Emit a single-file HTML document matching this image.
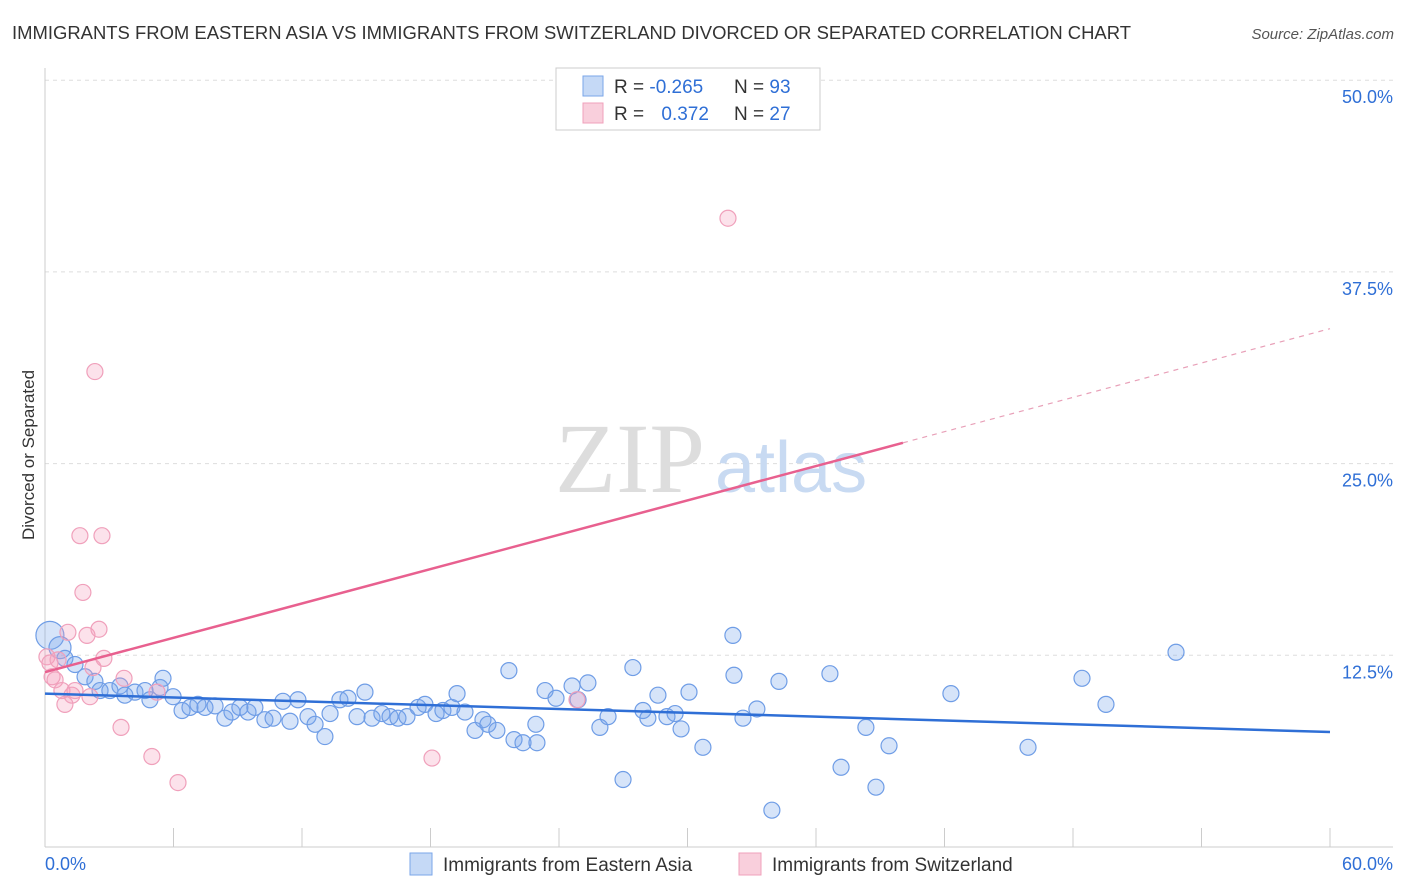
<!DOCTYPE html>
<html><head><meta charset="utf-8"><style>
body{margin:0;background:#fff;font-family:"Liberation Sans",sans-serif;}
#wrap{position:relative;width:1406px;height:892px;overflow:hidden;}
</style></head><body>
<div id="wrap">
<svg id="svg" width="1406" height="892" xmlns="http://www.w3.org/2000/svg">
<text x="12" y="39" font-size="18" fill="#333" textLength="1119" lengthAdjust="spacingAndGlyphs">IMMIGRANTS FROM EASTERN ASIA VS IMMIGRANTS FROM SWITZERLAND DIVORCED OR SEPARATED CORRELATION CHART</text>
<text x="1394" y="39" font-size="15" fill="#555" text-anchor="end" font-style="italic">Source: ZipAtlas.com</text>
<text x="34" y="455" font-size="17" fill="#333" text-anchor="middle" transform="rotate(-90 34 455)">Divorced or Separated</text>
<g id="grid"></g>
<text x="555" y="492" font-size="100" fill="#ddd" font-family="Liberation Serif">ZIP</text>
<text x="715" y="492" font-size="72" fill="#c8daf2">atlas</text>
<g id="pts"></g>
<g id="lines"></g>
<g>
<rect x="556" y="68" width="264" height="62" fill="#fff" stroke="#ccc"/>
<rect x="583" y="76" width="20" height="20" fill="#c5d9f6" stroke="#7aa6e8"/>
<rect x="583" y="103" width="20" height="20" fill="#f9cfdc" stroke="#f0a0bb"/>
<text x="614" y="93" font-size="19" fill="#333">R = <tspan fill="#2f6fd6">-0.265</tspan></text>
<text x="734" y="93" font-size="19" fill="#333">N = <tspan fill="#2f6fd6">93</tspan></text>
<text x="614" y="120" font-size="19" fill="#333">R = <tspan fill="#2f6fd6" dx="12">0.372</tspan></text>
<text x="734" y="120" font-size="19" fill="#333">N = <tspan fill="#2f6fd6">27</tspan></text>
</g>
<g>
<rect x="410" y="853" width="22" height="22" fill="#c5d9f6" stroke="#7aa6e8"/>
<text x="443" y="871" font-size="19" fill="#333">Immigrants from Eastern Asia</text>
<rect x="739" y="853" width="22" height="22" fill="#f9cfdc" stroke="#f0a0bb"/>
<text x="772" y="871" font-size="19" fill="#333">Immigrants from Switzerland</text>
</g>
</svg>
</div>
<script>
const blueX=[0.23,0.70,0.93,1.40,1.87,2.33,2.57,3.03,3.50,3.73,4.20,4.67,4.90,5.37,5.51,5.98,6.40,6.77,7.14,7.47,7.94,8.40,8.73,9.10,9.48,9.80,10.27,10.65,11.11,11.44,11.81,12.28,12.61,13.07,13.31,13.77,14.15,14.57,14.94,15.27,15.73,16.11,16.48,16.90,17.42,17.74,18.26,18.58,19.00,19.24,19.61,20.08,20.45,20.68,21.10,21.66,21.90,22.32,22.92,22.97,23.35,23.86,24.61,24.89,25.35,25.91,26.29,26.99,27.45,27.92,28.15,28.62,29.04,29.42,29.70,30.07,30.72,32.12,32.17,32.59,33.24,33.94,34.27,36.65,37.17,38.33,38.80,39.41,42.30,45.90,48.42,49.54,52.81];
const blueY=[13.8,13.0,12.3,11.9,11.1,10.8,10.2,10.2,10.5,9.9,10.1,10.2,9.6,10.4,11.0,9.8,8.9,9.1,9.3,9.1,9.2,8.4,8.8,9.1,8.8,9.1,8.3,8.4,9.5,8.2,9.6,8.5,8.0,7.2,8.7,9.6,9.7,8.5,10.1,8.4,8.7,8.5,8.4,8.5,9.1,9.3,8.7,8.9,9.1,10.0,8.8,7.6,8.3,8.0,7.6,11.5,7.0,6.8,8.0,6.8,10.2,9.7,10.5,9.6,10.7,7.8,8.5,4.4,11.7,8.9,8.4,9.9,8.5,8.7,7.7,10.1,6.5,13.8,11.2,8.4,9.0,2.4,10.8,11.3,5.2,7.8,3.9,6.6,10.0,6.5,11.0,9.3,12.7];
const pinkX=[0.09,0.23,0.33,0.47,0.61,0.79,0.93,1.07,1.26,1.40,1.63,1.77,1.96,2.10,2.24,2.33,2.52,2.66,2.75,3.55,3.69,4.99,5.23,6.21,18.07,24.84,31.89];
const pinkY=[12.4,12.0,11.1,10.9,12.2,10.2,9.3,14.0,9.9,10.2,20.3,16.6,13.8,9.8,11.7,31.0,14.2,20.3,12.3,7.8,11.0,5.9,10.1,4.2,5.8,9.6,41.0];
const blueTrend=[10.0,7.5];
const pinkTrend=[11.4,33.8];
const pinkSolidEnd=40.06;
const yTicks=[12.5,25,37.5,50];
const yTickLabels=["12.5%","25.0%","37.5%","50.0%"];
const xTicks=[0,6,12,18,24,30,36,42,48,54,60];

const NS="http://www.w3.org/2000/svg";
const X=v=>45+v/60*1285;
const Y=v=>847-v/12.5*191.7;
function mk(tag,attrs,parent){const e=document.createElementNS(NS,tag);for(const k in attrs)e.setAttribute(k,attrs[k]);parent.appendChild(e);return e;}
const grid=document.getElementById('grid');
yTicks.forEach((t,i)=>{
 const l=mk('line',{x1:45,x2:1393,y1:Y(t),y2:Y(t),stroke:'#ddd','stroke-dasharray':'4,4'},grid);
 
 
 const tx=mk('text',{x:1393,y:Y(t)+23,'font-size':18,fill:'#2f6fd6','text-anchor':'end'},grid);
 tx.textContent=yTickLabels[i];
 
 
});
const ax=mk('line',{x1:45,x2:1393,y1:847,y2:847,stroke:'#ccc'},grid);


const ay=mk('line',{x1:45,x2:45,y1:68,y2:847,stroke:'#ccc'},grid);


xTicks.forEach(t=>{
 const l=mk('line',{x1:X(t),x2:X(t),y1:828,y2:847,stroke:'#ccc'},grid);
 
 
});
const x0=mk('text',{x:45,y:870,'font-size':18,fill:'#2f6fd6'},grid);x0.textContent='0.0%';


const x1=mk('text',{x:1393,y:870,'font-size':18,fill:'#2f6fd6','text-anchor':'end'},grid);x1.textContent='60.0%';


const pts=document.getElementById('pts');
blueX.forEach((x,i)=>{
 const r=i<2?(i==0?14:11):8;
 const c=mk('circle',{cx:X(x),cy:Y(blueY[i]),r:r,fill:'rgba(120,165,235,0.3)',stroke:'#6f9de6','stroke-width':1.2},pts);
 
 
});
pinkX.forEach((x,i)=>{
 const c=mk('circle',{cx:X(x),cy:Y(pinkY[i]),r:8,fill:'rgba(245,160,190,0.3)',stroke:'#f0a0bb','stroke-width':1.2},pts);
 
 
});
const lines=document.getElementById('lines');
const bl=mk('line',{x1:X(0),y1:Y(blueTrend[0]),x2:X(60),y2:Y(blueTrend[1]),stroke:'#2f6fd6','stroke-width':2.5},lines);


const py=x=>pinkTrend[0]+(pinkTrend[1]-pinkTrend[0])*x/60;
const pl=mk('line',{x1:X(0),y1:Y(py(0)),x2:X(pinkSolidEnd),y2:Y(py(pinkSolidEnd)),stroke:'#e8608f','stroke-width':2.5},lines);


const pd=mk('line',{x1:X(pinkSolidEnd),y1:Y(py(pinkSolidEnd)),x2:X(60),y2:Y(py(60)),stroke:'#e8a0b8','stroke-width':1.2,'stroke-dasharray':'5,5'},lines);


</script>
</body></html>
